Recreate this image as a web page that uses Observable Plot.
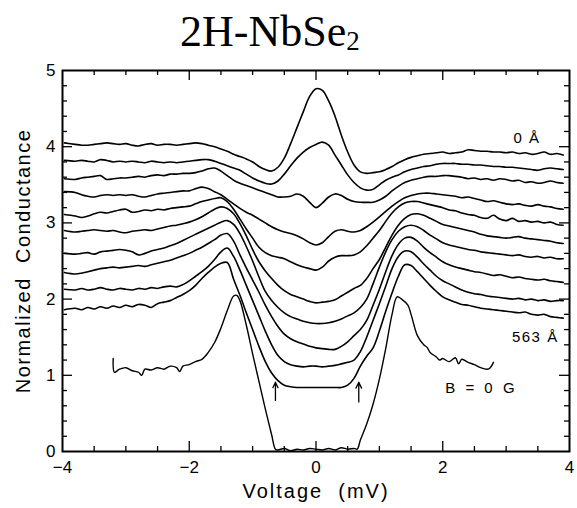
<!DOCTYPE html>
<html>
<head>
<meta charset="utf-8">
<script src="https://cdn.jsdelivr.net/npm/d3@7"></script>
<script src="https://cdn.jsdelivr.net/npm/@observablehq/plot@0.6"></script>
<style>
  body { margin: 0; background: #fff; }
  #title { position: relative; width: 577px; height: 52px; }
  #title span.main { position: absolute; left: 180px; top: 10px; font: 44px/1 "Liberation Serif", "Times New Roman", serif; color: #000; white-space: nowrap; }
  #title span.sub { font-size: 27px; position: relative; top: 4px; }
  svg text { white-space: pre; }
</style>
</head>
<body>
<div id="title"><span class="main">2H-NbSe<span class="sub">2</span></span></div>
<div id="chart"></div>
<script>
// ---- data ----
const X = [-3.97,-3.8,-3.7,-3.6,-3.5,-3.4,-3.3,-3.2,-3.1,-3.0,
  -2.9,-2.8,-2.7,-2.6,-2.5,-2.4,-2.3,-2.2,-2.1,-2.0,
  -1.9,-1.8,-1.7,-1.6,-1.5,-1.4,-1.3,-1.2,-1.1,-1.0,
  -0.9,-0.8,-0.7,-0.6,-0.5,-0.4,-0.3,-0.2,-0.1,0,
  0.1,0.2,0.3,0.4,0.5,0.6,0.7,0.8,0.9,1.0,
  1.1,1.2,1.3,1.4,1.5,1.6,1.7,1.8,1.9,2.0,
  2.1,2.2,2.3,2.4,2.5,2.6,2.7,2.8,2.9,3.0,
  3.1,3.2,3.3,3.4,3.5,3.6,3.7,3.8,3.9];

const c1 = [4.05,4.03,4.02,4.02,4.03,4.04,4.05,4.04,4.03,4.04,
  4.02,4.01,4.03,4.04,4.02,4.03,4.03,4.02,4.03,4.04,
  4.05,4.04,4.02,4.00,3.97,3.94,3.90,3.87,3.84,3.80,
  3.74,3.70,3.68,3.73,3.85,4.04,4.25,4.46,4.66,4.76,
  4.74,4.60,4.40,4.15,3.93,3.76,3.67,3.65,3.66,3.67,
  3.70,3.74,3.79,3.83,3.86,3.88,3.90,3.91,3.92,3.93,
  3.91,3.92,3.93,3.96,3.95,3.94,3.94,3.93,3.93,3.92,
  3.93,3.91,3.92,3.90,3.91,3.93,3.90,3.91,3.89];
const c2 = [3.82,3.81,3.82,3.81,3.80,3.83,3.82,3.80,3.81,3.80,
  3.81,3.80,3.79,3.81,3.80,3.79,3.80,3.79,3.80,3.81,
  3.82,3.83,3.83,3.81,3.78,3.75,3.72,3.69,3.64,3.59,
  3.55,3.52,3.51,3.55,3.64,3.75,3.85,3.93,3.99,4.03,
  4.06,4.02,3.89,3.76,3.63,3.53,3.46,3.43,3.44,3.50,
  3.56,3.60,3.63,3.67,3.70,3.72,3.74,3.75,3.77,3.78,
  3.78,3.78,3.77,3.77,3.76,3.76,3.75,3.74,3.74,3.73,
  3.73,3.72,3.71,3.70,3.69,3.71,3.72,3.71,3.70];
const c3 = [3.58,3.57,3.59,3.60,3.61,3.62,3.57,3.58,3.59,3.59,
  3.60,3.61,3.60,3.62,3.63,3.62,3.64,3.64,3.65,3.65,
  3.66,3.68,3.71,3.72,3.68,3.62,3.56,3.52,3.49,3.46,
  3.43,3.40,3.37,3.34,3.34,3.35,3.38,3.35,3.27,3.20,
  3.26,3.34,3.38,3.36,3.31,3.28,3.27,3.27,3.27,3.30,
  3.35,3.42,3.48,3.53,3.56,3.58,3.60,3.61,3.61,3.62,
  3.62,3.61,3.60,3.58,3.59,3.57,3.58,3.56,3.58,3.57,
  3.55,3.56,3.53,3.54,3.52,3.53,3.55,3.53,3.52];
const c4 = [3.41,3.40,3.37,3.35,3.34,3.36,3.37,3.36,3.37,3.36,
  3.37,3.35,3.34,3.36,3.38,3.39,3.40,3.41,3.42,3.42,
  3.45,3.47,3.45,3.41,3.37,3.31,3.25,3.19,3.14,3.10,
  3.05,3.00,2.95,2.91,2.88,2.86,2.83,2.79,2.74,2.71,
  2.74,2.82,2.89,2.91,2.89,2.88,2.90,2.95,3.01,3.08,
  3.15,3.22,3.28,3.33,3.36,3.38,3.39,3.39,3.38,3.37,
  3.36,3.35,3.33,3.34,3.32,3.30,3.28,3.29,3.27,3.25,
  3.24,3.25,3.23,3.22,3.24,3.22,3.21,3.19,3.18];
const c5 = [3.11,3.09,3.07,3.09,3.12,3.14,3.13,3.15,3.17,3.18,
  3.14,3.15,3.17,3.16,3.18,3.17,3.19,3.20,3.21,3.22,
  3.25,3.28,3.30,3.32,3.33,3.28,3.18,3.05,2.92,2.80,
  2.68,2.61,2.57,2.55,2.53,2.49,2.45,2.42,2.40,2.38,
  2.42,2.50,2.55,2.57,2.57,2.58,2.62,2.70,2.80,2.90,
  3.02,3.13,3.21,3.26,3.28,3.28,3.26,3.24,3.22,3.20,
  3.17,3.16,3.13,3.11,3.10,3.07,3.06,3.10,3.05,3.03,
  3.06,3.02,3.03,3.01,3.02,3.00,3.01,2.98,2.97];
const c6 = [2.90,2.88,2.89,2.90,2.91,2.90,2.89,2.90,2.88,2.87,
  2.89,2.90,2.91,2.90,2.92,2.94,2.96,2.97,2.99,3.01,
  3.04,3.08,3.13,3.18,3.21,3.19,3.12,2.99,2.83,2.65,
  2.49,2.37,2.27,2.18,2.11,2.06,2.03,2.00,1.97,1.95,
  1.96,1.97,1.99,2.04,2.09,2.14,2.18,2.27,2.40,2.52,
  2.68,2.84,2.97,3.06,3.11,3.12,3.10,3.06,3.02,2.98,
  2.96,2.94,2.92,2.90,2.88,2.85,2.83,2.82,2.81,2.80,
  2.81,2.82,2.80,2.79,2.78,2.77,2.76,2.74,2.73];
const c7 = [2.60,2.59,2.60,2.61,2.59,2.62,2.63,2.64,2.65,2.64,
  2.62,2.58,2.60,2.63,2.65,2.67,2.70,2.73,2.77,2.81,
  2.85,2.89,2.93,2.97,3.01,3.03,2.98,2.86,2.69,2.50,
  2.29,2.10,1.98,1.89,1.82,1.77,1.74,1.71,1.69,1.68,
  1.68,1.69,1.71,1.74,1.78,1.82,1.89,2.00,2.20,2.42,
  2.62,2.78,2.89,2.95,2.97,2.95,2.90,2.84,2.79,2.74,
  2.71,2.69,2.67,2.65,2.64,2.62,2.61,2.60,2.59,2.58,
  2.57,2.58,2.56,2.55,2.56,2.54,2.55,2.53,2.53];
const c8 = [2.35,2.33,2.34,2.36,2.38,2.40,2.41,2.42,2.41,2.42,
  2.43,2.44,2.43,2.45,2.47,2.49,2.51,2.54,2.57,2.60,
  2.64,2.68,2.73,2.78,2.84,2.86,2.76,2.58,2.41,2.25,
  2.09,1.92,1.77,1.64,1.54,1.48,1.44,1.41,1.38,1.36,
  1.35,1.34,1.34,1.38,1.44,1.52,1.60,1.72,1.92,2.13,
  2.36,2.57,2.72,2.80,2.81,2.76,2.68,2.61,2.55,2.49,
  2.45,2.42,2.40,2.38,2.36,2.35,2.33,2.31,2.32,2.30,
  2.28,2.29,2.27,2.26,2.25,2.26,2.24,2.23,2.22];
const c9 = [2.13,2.12,2.14,2.12,2.13,2.15,2.13,2.12,2.14,2.13,
  2.12,2.14,2.13,2.15,2.14,2.16,2.17,2.16,2.19,2.24,
  2.30,2.36,2.43,2.52,2.62,2.67,2.56,2.38,2.18,1.98,
  1.78,1.58,1.40,1.26,1.18,1.14,1.12,1.11,1.12,1.12,
  1.11,1.12,1.13,1.15,1.17,1.20,1.31,1.50,1.72,1.94,
  2.17,2.40,2.56,2.63,2.62,2.55,2.46,2.38,2.30,2.24,
  2.20,2.16,2.12,2.09,2.07,2.06,2.04,2.03,2.02,2.01,
  2.00,2.01,1.99,2.00,1.98,1.99,1.97,1.98,1.98];
const c10 = [1.86,1.88,1.86,1.89,1.87,1.90,1.88,1.91,1.89,1.92,
  1.90,1.93,1.92,1.89,1.94,1.96,1.98,2.02,2.06,2.11,
  2.18,2.27,2.35,2.42,2.47,2.48,2.26,2.05,1.82,1.60,
  1.38,1.18,1.03,0.93,0.87,0.85,0.84,0.84,0.84,0.84,
  0.84,0.84,0.84,0.84,0.87,0.96,1.12,1.25,1.36,1.58,
  1.84,2.08,2.30,2.45,2.44,2.36,2.27,2.18,2.10,2.03,
  1.99,1.96,1.93,1.92,1.90,1.88,1.87,1.86,1.85,1.84,
  1.83,1.82,1.83,1.80,1.79,1.80,1.77,1.76,1.75];

// B = 0 G spectrum
const b0X = [-3.2,-3.18,-3.1,-3.0,-2.9,-2.8,-2.75,-2.7,-2.6,-2.5,
  -2.4,-2.3,-2.2,-2.15,-2.1,-2.0,-1.9,-1.8,-1.7,-1.6,
  -1.5,-1.4,-1.3,-1.25,-1.2,-1.1,-1.0,-0.9,-0.8,-0.7,
  -0.64,-0.6,-0.5,-0.4,-0.3,-0.2,-0.1,0,0.1,0.2,
  0.3,0.4,0.5,0.6,0.65,0.7,0.8,0.9,1.0,1.1,
  1.2,1.28,1.35,1.45,1.5,1.6,1.7,1.75,1.8,1.9,
  1.95,2.0,2.1,2.2,2.25,2.3,2.4,2.5,2.6,2.7,
  2.75,2.8];
const b0Y = [1.22,1.04,1.08,1.10,1.06,1.04,1.00,1.08,1.07,1.10,
  1.08,1.12,1.10,1.05,1.12,1.14,1.18,1.21,1.30,1.43,
  1.62,1.85,2.04,2.05,1.98,1.66,1.28,0.92,0.56,0.22,
  0.03,0.02,0.04,0.01,0.03,0.02,0.04,0.03,0.02,0.04,
  0.02,0.05,0.03,0.04,0.03,0.15,0.36,0.62,0.95,1.35,
  1.80,2.03,2.00,1.92,1.80,1.52,1.40,1.37,1.30,1.24,
  1.20,1.22,1.18,1.23,1.15,1.21,1.17,1.14,1.10,1.08,
  1.10,1.17];

const seriesNames = ["0 Å","d2","d3","d4","d5","d6","d7","d8","d9","563 Å"];
const seriesValues = [c1,c2,c3,c4,c5,c6,c7,c8,c9,c10];

const labels = [
  {x: 3.33, y: 4.11, text: "0 Å"},
  {x: 3.46, y: 1.50, text: "563 Å"},
  {x: 2.61, y: 0.83, text: "B = 0 G"}
];
const arrows = [
  {x: -0.64, y1: 0.67, y2: 0.91},
  {x: 0.675, y1: 0.65, y2: 0.91}
];

const xTickLabels = [-4,-2,0,2,4];
const yTickLabels = [0,1,2,3,4,5];
const xMajorTicks = [-2,0,2];
const xMinorTicks = [-3.5,-3,-2.5,-1.5,-1,-0.5,0.5,1,1.5,2.5,3,3.5];
const yMajorTicks = [1,2,3,4];
const yMinorTicks = [0.2,0.4,0.6,0.8,1.2,1.4,1.6,1.8,2.2,2.4,2.6,2.8,3.2,3.4,3.6,3.8,4.2,4.4,4.6,4.8];

// ---- build tables ----
const rows = seriesValues.flatMap((ys, k) => X.map((x, i) => ({x, y: ys[i], s: seriesNames[k]})));
const b0rows = b0X.map((x, i) => ({x, y: b0Y[i]}));

const W = 577, H = 456;
const mL = 62, mR = 8, mT = 18, mB = 57;
const fw = W - mL - mR, fh = H - mT - mB;
const fmt = d => d < 0 ? "\u2212" + Math.abs(d) : String(d);

const svg = Plot.plot({
  width: W,
  height: H,
  marginLeft: mL, marginRight: mR, marginTop: mT, marginBottom: mB,
  style: {fontFamily: "'Liberation Sans', Arial, sans-serif", fontSize: "17px", background: "#fff", color: "#000"},
  x: {domain: [-4, 4], ticks: xTickLabels, tickSize: 0, tickPadding: 9, tickFormat: fmt, label: null},
  y: {domain: [0, 5], ticks: yTickLabels, tickSize: 0, tickPadding: 7, tickFormat: fmt, label: null},
  marks: [
    // inward ticks on all four sides
    Plot.ruleX(xMinorTicks, {x: d => d, insetTop: fh - 5, stroke: "#000", strokeWidth: 1.3}),
    Plot.ruleX(xMinorTicks, {x: d => d, insetBottom: fh - 5, stroke: "#000", strokeWidth: 1.3}),
    Plot.ruleX(xMajorTicks, {x: d => d, insetTop: fh - 10, stroke: "#000", strokeWidth: 1.3}),
    Plot.ruleX(xMajorTicks, {x: d => d, insetBottom: fh - 10, stroke: "#000", strokeWidth: 1.3}),
    Plot.ruleY(yMinorTicks, {y: d => d, insetRight: fw - 5, stroke: "#000", strokeWidth: 1.3}),
    Plot.ruleY(yMinorTicks, {y: d => d, insetLeft: fw - 5, stroke: "#000", strokeWidth: 1.3}),
    Plot.ruleY(yMajorTicks, {y: d => d, insetRight: fw - 10, stroke: "#000", strokeWidth: 1.3}),
    Plot.ruleY(yMajorTicks, {y: d => d, insetLeft: fw - 10, stroke: "#000", strokeWidth: 1.3}),
    // spectra
    Plot.line(rows, {x: "x", y: "y", z: "s", stroke: "#000", strokeWidth: 1.6, curve: "catmull-rom"}),
    Plot.line(b0rows, {x: "x", y: "y", stroke: "#000", strokeWidth: 1.4, curve: "catmull-rom"}),
    Plot.frame({stroke: "#000", strokeWidth: 2}),
    // annotations
    Plot.arrow(arrows, {x1: "x", x2: "x", y1: "y1", y2: "y2", stroke: "#000", strokeWidth: 1.3, headLength: 9, headAngle: 50}),
    Plot.text(labels, {x: "x", y: "y", text: "text", fontSize: 15, fill: "#000"}),
    Plot.text(["Voltage  (mV)"], {text: d => d, frameAnchor: "bottom", textAnchor: "middle", lineAnchor: "middle", dy: 40, fontSize: 20, fill: "#000"}),
    Plot.text(["Normalized  Conductance"], {text: d => d, frameAnchor: "left", textAnchor: "middle", lineAnchor: "middle", dx: -38.5, rotate: -90, fontSize: 20, fill: "#000"})
  ]
});

svg.querySelectorAll("text").forEach(t => {
  const s = t.textContent;
  if (s === "Voltage  (mV)") t.style.letterSpacing = "2px";
  else if (s === "Normalized  Conductance") t.style.letterSpacing = "1.5px";
  else if (s === "B = 0 G") t.style.letterSpacing = "3px";
  else if (s === "563 Å" || s === "0 Å") t.style.letterSpacing = "1.5px";
});

document.getElementById("chart").appendChild(svg);
</script>
</body>
</html>
